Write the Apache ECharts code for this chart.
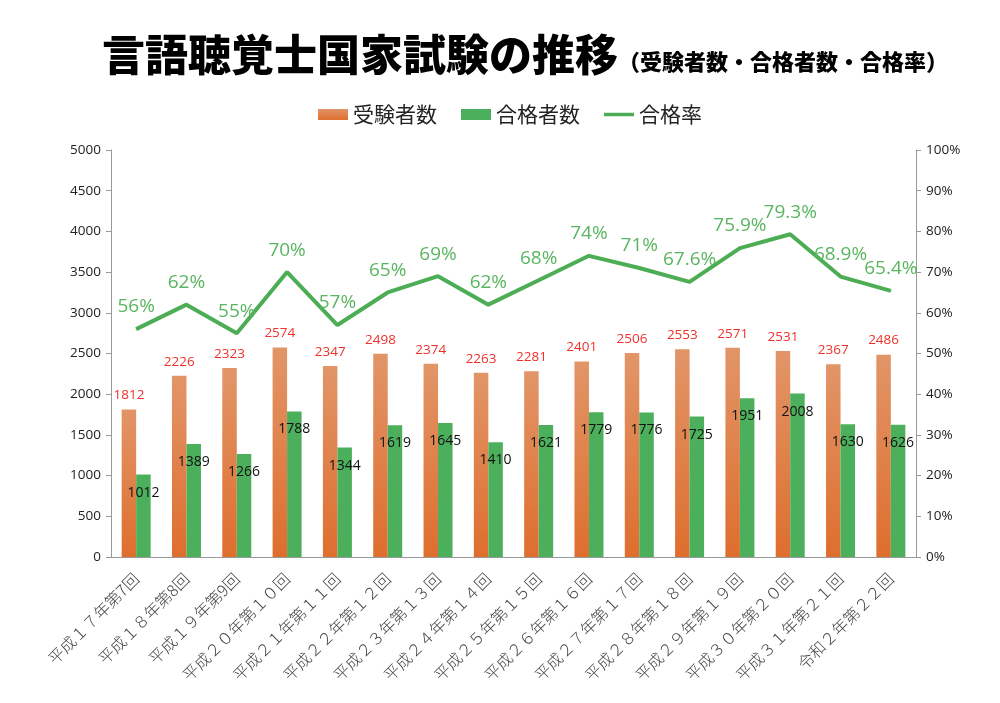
<!DOCTYPE html>
<html><head><meta charset="utf-8">
<script src="https://cdn.jsdelivr.net/npm/echarts@6/dist/echarts.min.js"></script>
<style>html,body{margin:0;padding:0;background:#fff}#c{width:1000px;height:703px}</style>
</head><body><div id="c"></div>
<script>
const categories = ['平成１７年第7回','平成１８年第8回','平成１９年第9回','平成２０年第１０回','平成２１年第１１回','平成２２年第１２回','平成２３年第１３回','平成２４年第１４回','平成２５年第１５回','平成２６年第１６回','平成２７年第１７回','平成２８年第１８回','平成２９年第１９回','平成３０年第２０回','平成３１年第２１回','令和２年第２２回'];
const examinees = [1812,2226,2323,2574,2347,2498,2374,2263,2281,2401,2506,2553,2571,2531,2367,2486];
const passers = [1012,1389,1266,1788,1344,1619,1645,1410,1621,1779,1776,1725,1951,2008,1630,1626];
const passRate = [0.56,0.62,0.55,0.70,0.57,0.65,0.69,0.62,0.68,0.74,0.71,0.676,0.759,0.793,0.689,0.654];
const rateLabels = ['56%','62%','55%','70%','57%','65%','69%','62%','68%','74%','71%','67.6%','75.9%','79.3%','68.9%','65.4%'];

const FONT = '"Noto Sans CJK JP","Noto Sans",sans-serif';
const NUMFONT = '"Open Sans",sans-serif';
const chart = echarts.init(document.getElementById('c'));
chart.setOption({
  animation:false,
  textStyle:{fontFamily:FONT},
  title:{
    left:97, top:28,
    text:'{a|言語聴覚士国家試験の推移}{b|（受験者数・合格者数・合格率）}',
    textStyle:{rich:{
      a:{fontSize:43,fontWeight:900,color:'#000',fontFamily:FONT},
      b:{fontSize:22,fontWeight:900,color:'#000',fontFamily:FONT,padding:[14,0,0,0]}
    }}
  },
  legend:{
    left:313, top:99, itemWidth:30, itemHeight:11, itemGap:24,
    textStyle:{fontSize:21,color:'#222',fontFamily:FONT},
    data:[{name:'受験者数',icon:'rect'},{name:'合格者数',icon:'rect'},
          {name:'合格率',icon:'path://M0,0 L30,0 L30,3.5 L0,3.5 Z'}]
  },
  grid:{left:111,right:84,top:150,bottom:146,containLabel:false},
  xAxis:{
    type:'category', data:categories,
    axisLine:{lineStyle:{color:'#999'}},
    axisTick:{lineStyle:{color:'#999'},length:5},
    axisLabel:{rotate:45,fontSize:16,fontWeight:300,color:'#444',interval:0,margin:19,fontFamily:FONT}
  },
  yAxis:[
    {type:'value',min:0,max:5000,interval:500,
     axisLine:{show:true,lineStyle:{color:'#999'}},
     axisTick:{show:true,lineStyle:{color:'#999'},length:5},
     splitLine:{show:false},
     axisLabel:{fontSize:13.5,color:'#222',margin:10,fontFamily:NUMFONT,formatter:v=>String(v)}},
    {type:'value',min:0,max:1,interval:0.1,
     axisLine:{show:true,lineStyle:{color:'#999'}},
     axisTick:{show:true,lineStyle:{color:'#999'},length:5},
     splitLine:{show:false},
     axisLabel:{fontSize:13.5,color:'#222',margin:10,fontFamily:NUMFONT,
       formatter:v=>Math.round(v*100)+'%'}}
  ],
  series:[
    {name:'受験者数',type:'bar',data:examinees,barWidth:14.5,barGap:'0%',
     itemStyle:{color:new echarts.graphic.LinearGradient(0,0,0,1,[{offset:0,color:'#E29568'},{offset:1,color:'#DE6E2E'}])},
     label:{show:true,position:'top',distance:7,fontSize:13.5,color:'#F0302A',fontFamily:NUMFONT}},
    {name:'合格者数',type:'bar',data:passers,barWidth:14.5,
     itemStyle:{color:'#4CAF5B'},
     label:{show:true,position:'insideTop',distance:11,fontSize:14,color:'#111',fontFamily:NUMFONT}},
    {name:'合格率',type:'line',yAxisIndex:1,data:passRate,
     symbol:'circle',symbolSize:1,
     lineStyle:{width:4,color:'#4DAD55'},itemStyle:{color:'#4DAD55'},
     label:{show:true,position:'top',distance:12,fontSize:19,color:'#5AB560',fontFamily:NUMFONT,
       formatter:p=>rateLabels[p.dataIndex]}}
  ]
});
</script></body></html>
